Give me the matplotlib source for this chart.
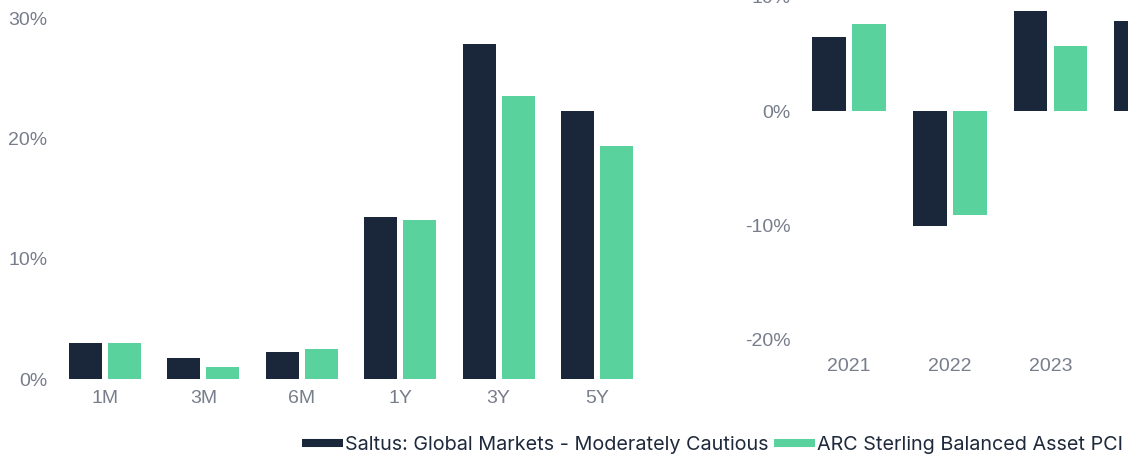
import matplotlib
matplotlib.use("Agg")
import matplotlib.pyplot as plt
from matplotlib.lines import Line2D
import numpy as np

# trailing returns
periods = ["1M", "3M", "6M", "1Y", "3Y", "5Y"]
saltus_period = [3.0, 1.75, 2.25, 13.5, 27.8, 22.3]
arc_period = [3.0, 1.0, 2.5, 13.2, 23.5, 19.4]

# calendar year returns
years = ["2021", "2022", "2023", "2024"]
saltus_year = [6.5, -10.0, 8.7, 7.9]
arc_year = [7.6, -9.1, 5.7, 6.5]

series_names = ["Saltus: Global Markets - Moderately Cautious", "ARC Sterling Balanced Asset PCI"]
dark = "#1a273a"
green = "#5ad29e"
grey = "#787d8c"

plt.rcParams['font.family'] = ['Liberation Sans', 'DejaVu Sans']

fig = plt.figure(figsize=(11.28, 4.57), dpi=100)
W, H = 1128, 457

def px_axes(x0, x1, y_top, y_bot):
    return fig.add_axes([x0 / W, (H - y_bot) / H, (x1 - x0) / W, (y_bot - y_top) / H])

off = 0.198
bw = 0.335

# left panel
ax1 = px_axes(55.75, 646.25, 18, 379)
x = np.arange(len(periods))
ax1.bar(x - off, saltus_period, bw, color=dark)
ax1.bar(x + off, arc_period, bw, color=green)
ax1.set_xlim(-0.5, len(periods) - 0.5)
ax1.set_ylim(0, 30)
ax1.set_yticks([0, 10, 20, 30])
ax1.set_yticklabels([f"{v}%" for v in [0, 10, 20, 30]])
ax1.set_xticks(x)
ax1.set_xticklabels(periods)
ax1.tick_params(axis='x', length=0, pad=8, labelsize=14, labelcolor=grey)
ax1.tick_params(axis='y', length=0, pad=6, labelsize=14, labelcolor=grey)

# right panel (runs off the figure edge)
ax2 = px_axes(798.7, 1201.5, -3.5, 340)
x2 = np.arange(len(years))
ax2.bar(x2 - off, saltus_year, bw, color=dark)
ax2.bar(x2 + off, arc_year, bw, color=green)
ax2.set_xlim(-0.5, len(years) - 0.5)
ax2.set_ylim(-20, 10)
ax2.set_yticks([-20, -10, 0, 10])
ax2.set_yticklabels([f"{v}%" for v in [-20, -10, 0, 10]])
ax2.set_xticks(x2)
ax2.set_xticklabels(years)
ax2.tick_params(axis='x', length=0, pad=13, labelsize=14, labelcolor=grey)
ax2.tick_params(axis='y', length=0, pad=6, labelsize=14, labelcolor=grey)

for ax in (ax1, ax2):
    for s in ax.spines.values():
        s.set_visible(False)
    ax.set_facecolor("none")

handles = [Line2D([0], [0], color=dark, lw=5.8, solid_capstyle='butt'),
           Line2D([0], [0], color=green, lw=5.8, solid_capstyle='butt')]
leg = fig.legend(handles, series_names, loc='center', ncol=2,
                 bbox_to_anchor=(712.5 / W, (H - 445) / H), frameon=False,
                 prop={'family': ['Inter', 'Liberation Sans'], 'size': 14.25},
                 handlelength=2.06, handletextpad=0.1, columnspacing=0.3, borderpad=0,
                 borderaxespad=0)
for t in leg.get_texts():
    t.set_color("#1e2a3c")

fig.savefig("out.png", dpi=100)
